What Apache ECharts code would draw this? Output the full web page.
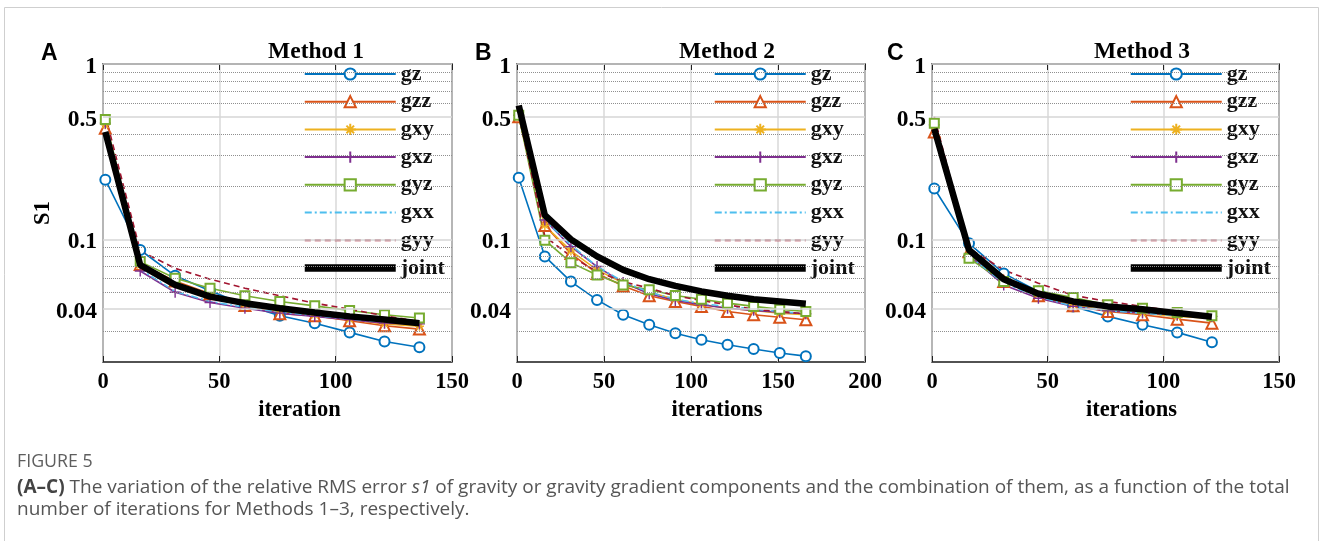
<!DOCTYPE html>
<html><head><meta charset="utf-8">
<script src="https://cdn.jsdelivr.net/npm/echarts@6/dist/echarts.min.js"></script>
<style>html,body{margin:0;padding:0;background:#fff}#c{width:1328px;height:541px}</style>
</head><body><div id="c"></div>
<script>
// ---------- data ----------
const seriesNames = ['gz','gzz','gxy','gxz','gyz','gxx','gyy','joint'];
const yTickValues = [0.04, 0.1, 0.5, 1];
const yTickLabels = ['0.04', '0.1', '0.5', '1'];
const yMinorValues = [0.03,0.05,0.06,0.07,0.08,0.09,0.2,0.3,0.4,0.6,0.7,0.8,0.9];
const panelTitles = ['Method 1','Method 2','Method 3'];
const panelLetters = ['A','B','C'];
const xAxisNames = ['iteration','iterations','iterations'];
const xMaxValues = [150, 200, 150];

const iterA = [1,16,31,46,61,76,91,106,121,136];
const gzA    = [0.219,0.087,0.062,0.051,0.0424,0.0367,0.0333,0.0295,0.0262,0.0243];
const gzzA   = [0.43,0.072,0.058,0.049,0.042,0.0377,0.0367,0.0344,0.0322,0.0308];
const gxyA   = [0.45,0.071,0.057,0.048,0.042,0.039,0.037,0.035,0.033,0.032];
const gxzA   = [0.46,0.066,0.050,0.0437,0.0405,0.038,0.0364,0.0349,0.0333,0.033];
const gyzA   = [0.483,0.0747,0.060,0.0527,0.0477,0.0443,0.0418,0.0393,0.0372,0.0356];
const gxxA   = [0.47,0.0675,0.0505,0.0443,0.041,0.0385,0.0368,0.0352,0.0338,0.0336];
const gyyA   = [0.51,0.086,0.0684,0.0593,0.0527,0.0477,0.0433,0.040,0.0367,0.034];
const jointA = [0.41,0.0715,0.055,0.0472,0.0433,0.0405,0.0383,0.0364,0.0349,0.0333];

const iterB = [1,16,31,46,61,76,91,106,121,136,151,166];
const gzB    = [0.225,0.080,0.0575,0.0452,0.0372,0.0326,0.0292,0.0268,0.0251,0.0237,0.0225,0.0216];
const gzzB   = [0.50,0.120,0.083,0.064,0.0543,0.0477,0.0443,0.0415,0.0388,0.0372,0.036,0.0348];
const gxyB   = [0.50,0.120,0.086,0.067,0.0563,0.050,0.0456,0.0427,0.0405,0.0393,0.038,0.0372];
const gxzB   = [0.51,0.129,0.091,0.070,0.0567,0.049,0.0448,0.0424,0.0405,0.0394,0.0384,0.0377];
const gyzB   = [0.51,0.099,0.0737,0.0627,0.055,0.0516,0.0479,0.0456,0.0433,0.0415,0.040,0.0388];
const gxxB   = [0.51,0.128,0.093,0.070,0.0575,0.050,0.0456,0.043,0.0415,0.040,0.0388,0.0377];
const gyyB   = [0.52,0.104,0.080,0.0655,0.0575,0.0527,0.0477,0.0448,0.0424,0.040,0.0388,0.0377];
const jointB = [0.58,0.1375,0.100,0.080,0.067,0.0593,0.0543,0.0505,0.0477,0.0456,0.0443,0.043];

const iterC = [1,16,31,46,61,76,91,106,121];
const gzC    = [0.195,0.095,0.064,0.0505,0.0415,0.0364,0.0326,0.0295,0.0259];
const gzzC   = [0.41,0.085,0.0575,0.0477,0.0418,0.0388,0.0372,0.0351,0.0333];
const gxyC   = [0.44,0.083,0.058,0.0485,0.0425,0.0392,0.038,0.0364,0.0356];
const gxzC   = [0.45,0.081,0.055,0.0462,0.0415,0.0392,0.038,0.0372,0.0364];
const gyzC   = [0.46,0.078,0.0575,0.051,0.0466,0.0424,0.0405,0.0383,0.0367];
const gxxC   = [0.45,0.081,0.0563,0.0472,0.0415,0.0392,0.038,0.0368,0.036];
const gyyC   = [0.50,0.089,0.0669,0.0563,0.048,0.0443,0.0415,0.0388,0.0364];
const jointC = [0.427,0.087,0.0593,0.049,0.0443,0.0415,0.040,0.038,0.0362];

// ---------- styling / layout ----------
const SERIF = '"Liberation Serif","Times New Roman",serif';
const SANS = '"Open Sans","Noto Sans",sans-serif';
const panels = [
  {iter: iterA, vals: [gzA,gzzA,gxyA,gxzA,gyzA,gxxA,gyyA,jointA], left: 103, width: 349, legendLeft: 301, title: 316, letter: 41, nameShift: 44},
  {iter: iterB, vals: [gzB,gzzB,gxyB,gxzB,gyzB,gxxB,gyyB,jointB], left: 517, width: 348, legendLeft: 711, title: 727, letter: 475, nameShift: 52},
  {iter: iterC, vals: [gzC,gzzC,gxyC,gxzC,gyzC,gxxC,gyyC,jointC], left: 932, width: 347, legendLeft: 1127, title: 1142, letter: 887, nameShift: 52}
];
const PLUS = 'path://M5,0L5,10M0,5L10,5';
const STAR = 'path://M5,0L5,10M0,5L10,5M1.6,1.6L8.4,8.4M1.6,8.4L8.4,1.6';
const styles = {
  gz:    {color:'#0072BD', symbol:'emptyCircle', size:10},
  gzz:   {color:'#D95319', symbol:'emptyTriangle', size:11},
  gxy:   {color:'#EDB120', symbol:STAR, size:9},
  gxz:   {color:'#7E2F8E', symbol:PLUS, size:11},
  gyz:   {color:'#77AC30', symbol:'emptyRect', size:9},
  gxx:   {color:'#4DBEEE', symbol:'none', size:0, type:[7,3,2,3]},
  gyy:   {color:'#A2142F', symbol:'none', size:0, type:[6,4]},
  joint: {color:'#000000', symbol:'none', size:0, width:6.5}
};
const axisFont = {fontFamily:SERIF, fontWeight:'bold', fontSize:22.5, color:'#000'};

const grids = [], xAxes = [], yAxes = [], series = [], legends = [], graphics = [];
panels.forEach((p, i) => {
  grids.push({left: p.left, width: p.width, top: 64, height: 298, show: true,
    borderColor: '#1a1a1a', borderWidth: 1.5, backgroundColor: 'transparent'});
  xAxes.push({type:'value', gridIndex:i, min:0, max:xMaxValues[i], interval:50,
    axisLine:{show:false},
    axisTick:{show:true, inside:true, length:6, lineStyle:{color:'#222'}},
    axisLabel:Object.assign({margin:9}, axisFont),
    splitLine:{show:true, lineStyle:{color:'#d9d9d9', width:1.5}},
    name: xAxisNames[i], nameLocation:'middle', nameGap:34,
    nameTextStyle:Object.assign({padding:[0,0,0,p.nameShift]}, axisFont)});
  yAxes.push({type:'log', logBase:10, gridIndex:i, min:0.02, max:1,
    axisLine:{show:false}, axisTick:{show:false}, axisLabel:{show:false},
    splitLine:{show:false},
    name: i === 0 ? 'S1' : '', nameLocation:'middle', nameGap:48, nameRotate:90,
    nameTextStyle:axisFont});
  // grid lines and y tick labels through the log scale
  const mlData = [];
  yMinorValues.forEach(v => mlData.push({yAxis:v, lineStyle:{type:'dotted', color:'#8f8f8f', width:1}, label:{show:false}}));
  yTickValues.forEach((v, k) => mlData.push({yAxis:v, lineStyle:{type:'solid', color:'#d6d6d6', width:1.5},
    label:Object.assign({show:true, position:'start', distance:6, offset:[0,3], formatter: yTickLabels[k]}, axisFont, {fontSize:23.5})}));
  series.push({type:'line', name:'_grid'+i, xAxisIndex:i, yAxisIndex:i, data:[], z:1, silent:true,
    markLine:{silent:true, symbol:['none','none'], animation:false, data: mlData}});
  seriesNames.forEach((n, k) => {
    const s = styles[n];
    const marked = s.size > 0;
    series.push({type:'line', name:n, xAxisIndex:i, yAxisIndex:i, z: n === 'joint' ? 5 : 3,
      data: p.iter.map((x, j) => [x, p.vals[k][j]]),
      symbol: s.symbol, symbolSize: s.size, showSymbol: marked,
      lineStyle:{color:s.color, width: s.width || 1.6, type: s.type || 'solid'},
      itemStyle: marked ? {color:s.color, borderColor:s.color, borderWidth:1.4}
                        : {color:'transparent', borderColor:'transparent', borderWidth:0},
      emphasis:{disabled:true}});
  });
  legends.push({orient:'vertical', left:p.legendLeft, top:63, padding:0,
    itemWidth:91, itemHeight:14, itemGap:5.7, selectedMode:false,
    data: seriesNames.map(n => n === 'joint' ? {name:n, lineStyle:{width:7.5}} : {name:n}),
    textStyle:{fontFamily:SERIF, fontWeight:'bold', fontSize:22, color:'#111'}});
  graphics.push({type:'text', x:p.title, y:52, style:{text:panelTitles[i], font:'bold 23.5px ' + SERIF, fill:'#000', align:'center', verticalAlign:'middle'}});
  graphics.push({type:'text', x:p.letter, y:54, style:{text:panelLetters[i], font:'bold 23px "Liberation Sans",Arial,sans-serif', fill:'#000', align:'left', verticalAlign:'middle'}});
});

graphics.push({type:'rect', shape:{x:4.5, y:7.5, width:1314, height:560}, style:{fill:'none', stroke:'#cfcfcf', lineWidth:1}, silent:true});
graphics.push({type:'text', x:17, y:462, style:{text:'FIGURE 5', font:'500 17.8px ' + SANS, fill:'#5e5e5e', verticalAlign:'middle'}});
graphics.push({type:'text', x:17, y:488, style:{
  text:'{b|(A–C)} The variation of the relative RMS error {i|s1} of gravity or gravity gradient components and the combination of them, as a function of the total',
  font:'19px ' + SANS, fill:'#555', verticalAlign:'middle',
  rich:{b:{fontWeight:'bold', fontSize:19, fontFamily:SANS, fill:'#444'},
        i:{fontStyle:'italic', fontSize:19, fontFamily:SANS, fill:'#555'}}}});
graphics.push({type:'text', x:17, y:510, style:{text:'number of iterations for Methods 1–3, respectively.',
  font:'19px ' + SANS, fill:'#555', verticalAlign:'middle'}});

// top copies of the x axes: inward ticks only (box style)
panels.forEach((p, i) => {
  xAxes.push({type:'value', gridIndex:i, position:'top', min:0, max:xMaxValues[i], interval:50,
    axisLine:{show:false}, axisLabel:{show:false}, splitLine:{show:false},
    axisTick:{show:true, inside:true, length:6, lineStyle:{color:'#222'}}});
});

const chart = echarts.init(document.getElementById('c'), null, {renderer:'canvas'});
chart.setOption({
  animation:false,
  backgroundColor:'#fff',
  grid: grids, xAxis: xAxes, yAxis: yAxes, series: series, legend: legends, graphic: graphics
});
</script></body></html>
